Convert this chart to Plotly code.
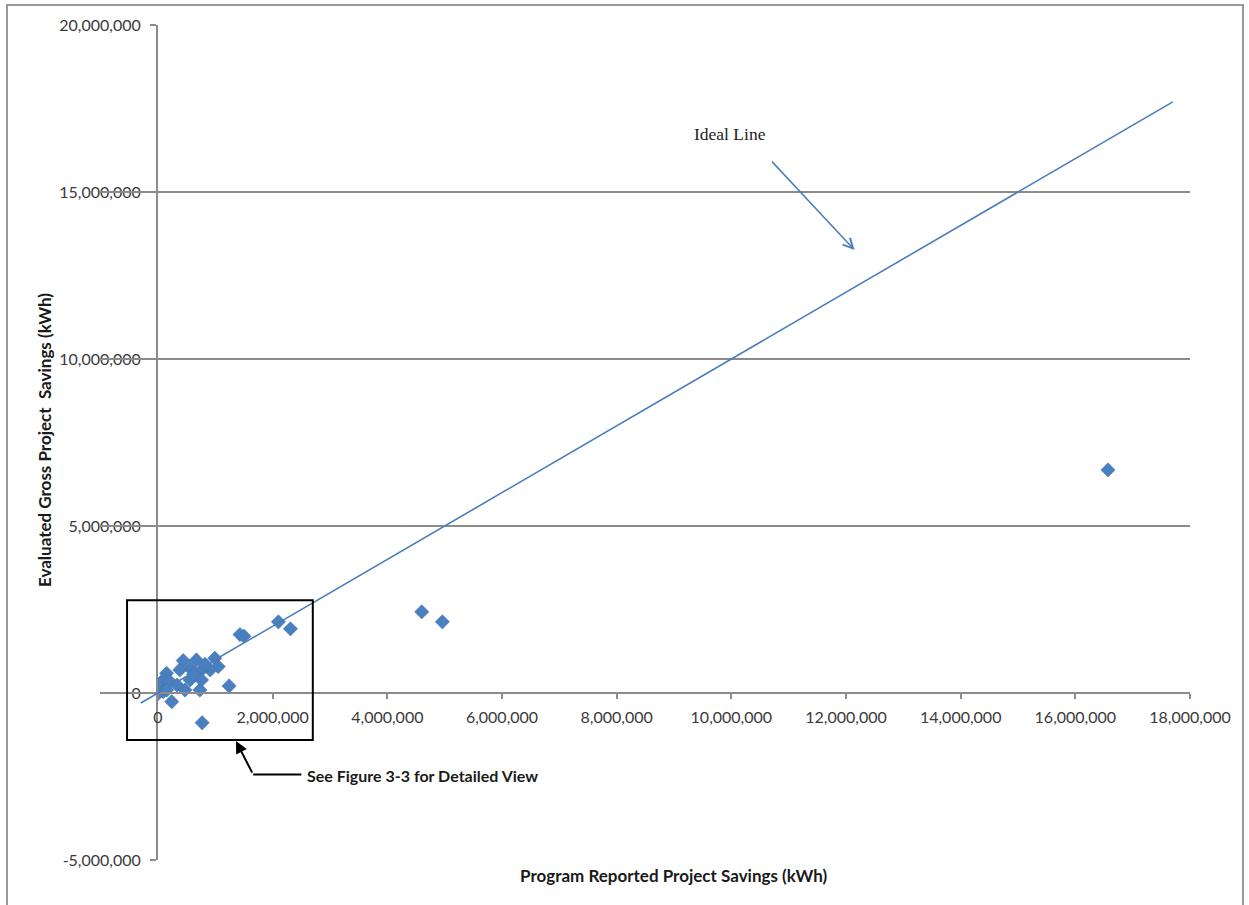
import plotly.graph_objects as go

# Program reported vs evaluated gross project savings (kWh)
reported_kwh = [16570000, 4600000, 4960000, 2100000, 2310000, 1430000, 1500000,
                1240000, 770000, 240000, 440000, 670000, 990000, 1050000, 910000,
                760000, 560000, 380000, 150000, 90000, 210000, 30000, 330000,
                470000, 730000, 90000, 560000, 760000, 5000, 150000, 820000, 620000]
evaluated_kwh = [6680000, 2430000, 2130000, 2130000, 1920000, 1750000, 1700000,
                 210000, -890000, -260000, 970000, 990000, 1040000, 790000, 690000,
                 690000, 740000, 690000, 590000, 390000, 340000, 140000, 240000,
                 90000, 90000, 40000, 390000, 390000, -10000, 90000, 860000, 560000]

# Ideal (1:1) line end points
ideal_line = [-300000, 17700000]

# Detail box around the small projects
detail_box_x = [-540000, 2700000]
detail_box_y = [-1410000, 2780000]

x_ticks = [0, 2000000, 4000000, 6000000, 8000000, 10000000, 12000000,
           14000000, 16000000, 18000000]
x_tick_labels = ["0", "2,000,000", "4,000,000", "6,000,000", "8,000,000",
                 "10,000,000", "12,000,000", "14,000,000", "16,000,000",
                 "18,000,000"]
y_ticks = [-5000000, 0, 5000000, 10000000, 15000000, 20000000]
y_tick_labels = ["-5,000,000", "0", "5,000,000", "10,000,000", "15,000,000",
                 "20,000,000"]

x_range = [0, 18000000]
y_range = [-5000000, 20000000]

BLUE = "#4a7ebb"
GRID = "#8c8c8c"
TEXT = "#3a3a3a"
FONT = "Lato, 'Open Sans', sans-serif"

W, H = 1249, 905
M_L, M_R, M_T, M_B = 100, 59, 25, 45
plot_w = W - M_L - M_R
plot_h = H - M_T - M_B
x_dom0 = (158 - M_L) / plot_w
# overlay axis spanning into the left margin, same scale as the main x axis
x2_min = x_range[0] - (x_range[1] - x_range[0]) * x_dom0 / (1 - x_dom0)

fig = go.Figure()

fig.add_trace(go.Scatter(
    x=ideal_line, y=ideal_line, mode="lines",
    line=dict(color=BLUE, width=1.6),
    xaxis="x2", yaxis="y", hoverinfo="skip", showlegend=False,
))

fig.add_trace(go.Scatter(
    x=reported_kwh, y=evaluated_kwh, mode="markers",
    marker=dict(symbol="diamond", size=11, color="#4a7fc0",
                line=dict(width=0.5, color="#3f70ad")),
    xaxis="x", yaxis="y", showlegend=False,
))

shapes = [
    # detail box
    dict(type="rect", xref="x2", yref="y",
         x0=detail_box_x[0], x1=detail_box_x[1],
         y0=detail_box_y[0], y1=detail_box_y[1],
         line=dict(color="black", width=2), fillcolor="rgba(0,0,0,0)"),
    # elbow of the callout leader
    dict(type="line", xref="x", yref="y",
         x0=1660000, x1=2500000, y0=-2440000, y1=-2440000,
         line=dict(color="black", width=2)),
    # frame round the figure
    dict(type="rect", xref="paper", yref="paper",
         x0=(7 - M_L) / plot_w, x1=(1243 - M_L) / plot_w,
         y0=(H - M_B - 910) / plot_h, y1=(H - M_B - 5) / plot_h,
         line=dict(color="#9a9a9a", width=2), fillcolor="rgba(0,0,0,0)"),
]

annotations = [
    dict(text="Ideal Line", x=9970000, y=16740000, xref="x", yref="y",
         showarrow=False, font=dict(family="'Liberation Serif', serif",
                                    size=17.5, color="#222222")),
    dict(text="", x=12150000, y=13260000, xref="x", yref="y",
         ax=-84, ay=-90, showarrow=True, arrowhead=5, arrowsize=1.3,
         arrowwidth=1.5, arrowcolor=BLUE),
    dict(text="", x=1360000, y=-1440000, xref="x", yref="y",
         ax=17, ay=33, showarrow=True, arrowhead=2, arrowsize=1.2,
         arrowwidth=2, arrowcolor="black"),
    dict(text="<b>See Figure 3-3 for Detailed View</b>", x=2560000, y=-2460000,
         xref="x", yref="y", xanchor="left", yanchor="middle", showarrow=False,
         font=dict(family=FONT, size=16, color="#1a1a1a")),
    dict(text="<b>Program Reported Project Savings (kWh)</b>",
         x=(673 - M_L) / plot_w, y=(H - M_B - 875) / plot_h,
         xref="paper", yref="paper", xanchor="center", yanchor="middle",
         showarrow=False,
         font=dict(family=FONT, size=17, color="#1a1a1a")),
    dict(text="<b>Evaluated Gross Project  Savings (kWh)</b>",
         x=(44 - M_L) / plot_w, y=(H - M_B - 440) / plot_h,
         xref="paper", yref="paper", xanchor="center", yanchor="middle",
         showarrow=False, textangle=-90,
         font=dict(family=FONT, size=17, color="#1a1a1a")),
]

fig.update_layout(
    width=W, height=H, autosize=False,
    margin=dict(l=M_L, r=M_R, t=M_T, b=M_B, pad=0),
    paper_bgcolor="white", plot_bgcolor="rgba(0,0,0,0)",
    font=dict(family=FONT, size=16, color=TEXT),
    xaxis=dict(domain=[x_dom0, 1], range=x_range, anchor="free",
               position=(0 - y_range[0]) / (y_range[1] - y_range[0]),
               tickvals=x_ticks, ticktext=x_tick_labels,
               showgrid=False, zeroline=False,
               showline=True, linecolor=GRID, linewidth=2,
               ticks="outside", ticklen=5, tickwidth=1.5, tickcolor=GRID,
               ticklabelstandoff=5,
               tickfont=dict(family=FONT, size=16, color=TEXT)),
    xaxis2=dict(domain=[0, 1], range=[x2_min, x_range[1]], anchor="y",
                visible=False),
    yaxis=dict(domain=[0, 1], range=y_range, anchor="x",
               tickvals=y_ticks, ticktext=y_tick_labels,
               showgrid=True, gridcolor=GRID, gridwidth=1.8, zeroline=False,
               showline=True, linecolor=GRID, linewidth=2,
               ticks="outside", ticklen=6, tickwidth=1.5, tickcolor=GRID,
               ticklabelstandoff=6,
               tickfont=dict(family=FONT, size=16, color=TEXT)),
    shapes=shapes,
    annotations=annotations,
)

fig.write_html("out.html")
